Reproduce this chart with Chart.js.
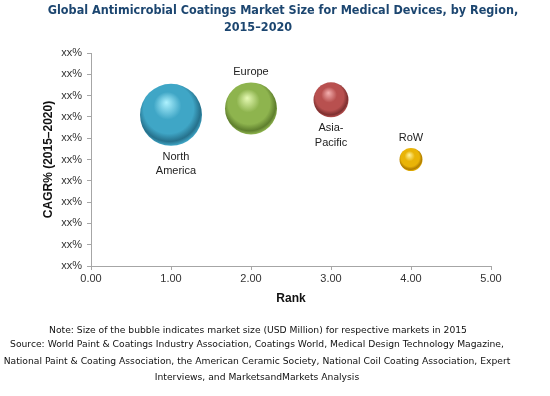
<!DOCTYPE html>
<html>
<head>
<meta charset="utf-8">
<script src="https://cdn.jsdelivr.net/npm/chart.js@4/dist/chart.umd.min.js"></script>
<style>
  html, body { margin: 0; padding: 0; background: #fff; }
  #wrap { position: relative; width: 550px; height: 396px; }
</style>
</head>
<body>
<div id="wrap"><canvas id="bubbleChart" width="550" height="396"></canvas></div>
<script>
// data
const regions = ['North America', 'Europe', 'Asia-Pacific', 'RoW'];
const rankValues = [1, 2, 3, 4];
const cagrValues = [7.1, 7.4, 7.8, 5.0];
const bubbleRadius = [31, 26, 17.5, 11.5];
const yTickLabels = ['xx%', 'xx%', 'xx%', 'xx%', 'xx%', 'xx%', 'xx%', 'xx%', 'xx%', 'xx%', 'xx%'];

const titleLines = [
  'Global Antimicrobial Coatings Market Size for Medical Devices, by Region,',
  '2015\u20132020'
];
const footerLines = [
  'Note: Size of the bubble indicates market size (USD Million) for respective markets in 2015',
  'Source: World Paint & Coatings Industry Association, Coatings World, Medical Design Technology Magazine,',
  'National Paint & Coating Association, the American Ceramic Society, National Coil Coating Association, Expert',
  'Interviews, and MarketsandMarkets Analysis'
];

// sphere shading: highlight, base, dark
const sphereColors = [
  ['#aef2ff', '#3fa6c6', '#26718c'],
  ['#e6fab4', '#8eb44e', '#5f7f2e'],
  ['#f4b0b0', '#b8504f', '#7e3030'],
  ['#fff4a0', '#e9b407', '#b07c00']
];
// label side for each bubble
const labelSide = ['below', 'above', 'below', 'above'];

function sphereFill(ctx) {
  const chart = ctx.chart;
  const raw = ctx.raw;
  const c = sphereColors[ctx.dataIndex] || sphereColors[0];
  if (!raw || !chart.scales.x) return c[1];
  const cx = chart.scales.x.getPixelForValue(raw.x);
  const cy = chart.scales.y.getPixelForValue(raw.y);
  if (!isFinite(cx) || !isFinite(cy)) return c[1];
  const r = raw.r;
  const g = chart.ctx.createRadialGradient(cx - r * 0.15, cy - r * 0.4, 0, cx - r * 0.05, cy - r * 0.12, r * 1.12);
  g.addColorStop(0, c[0]);
  g.addColorStop(0.4, c[1]);
  g.addColorStop(0.72, c[1]);
  g.addColorStop(0.9, c[2]);
  g.addColorStop(1, c[1]);
  return g;
}

const textPlugin = {
  id: 'textPlugin',
  afterDraw(chart) {
    const ctx = chart.ctx;
    ctx.save();
    ctx.textAlign = 'center';
    ctx.textBaseline = 'middle';

    // title
    ctx.fillStyle = '#1c4670';
    ctx.font = 'bold 12.5px "DejaVu Sans Condensed", "DejaVu Sans", sans-serif';
    ctx.fillText(titleLines[0], 283, 11);
    ctx.fillText(titleLines[1], 258, 28);

    // bubble labels
    ctx.fillStyle = '#222';
    ctx.font = '11px "Liberation Sans", Arial, sans-serif';
    const meta = chart.getDatasetMeta(0);
    meta.data.forEach((el, i) => {
      const r = bubbleRadius[i];
      const words = regions[i] === 'Asia-Pacific' ? ['Asia-', 'Pacific']
        : regions[i] === 'North America' ? ['North', 'America'] : [regions[i]];
      if (labelSide[i] === 'below') {
        words.forEach((w, k) => ctx.fillText(w, el.x + (i === 0 ? 5 : 0), el.y + r + 11 + k * 14.5));
      } else {
        ctx.fillText(words[0], el.x, el.y - r - 10);
      }
    });

    // footer notes
    ctx.fillStyle = '#111';
    ctx.font = '9.2px "DejaVu Sans", Verdana, sans-serif';
    ctx.fillText(footerLines[0], 258, 331);
    ctx.fillText(footerLines[1], 257, 345);
    ctx.fillText(footerLines[2], 257, 362);
    ctx.fillText(footerLines[3], 257, 378);
    ctx.restore();
  }
};

new Chart(document.getElementById('bubbleChart'), {
  type: 'bubble',
  plugins: [textPlugin],
  data: {
    datasets: [{
      label: 'CAGR',
      data: regions.map((name, i) => ({ x: rankValues[i], y: cagrValues[i], r: bubbleRadius[i] })),
      backgroundColor: sphereFill,
      borderWidth: 0
    }]
  },
  options: {
    responsive: false,
    animation: false,
    events: [],
    layout: { padding: { left: 38, right: 59, top: 53, bottom: 90 } },
    plugins: {
      legend: { display: false },
      tooltip: { enabled: false }
    },
    scales: {
      x: {
        type: 'linear',
        min: 0,
        max: 5,
        afterFit: s => { s.height = 40; },
        ticks: {
          stepSize: 1,
          color: '#333',
          font: { family: 'Liberation Sans', size: 11 },
          padding: 2,
          callback: v => v.toFixed(2)
        },
        grid: { drawOnChartArea: false, drawTicks: true, tickLength: 4, color: '#a6a6a6' },
        border: { color: '#a6a6a6' },
        title: {
          display: true,
          text: 'Rank',
          color: '#111',
          font: { family: 'Liberation Sans', size: 12, weight: 'bold' },
          padding: { top: 2, bottom: 0 }
        }
      },
      y: {
        type: 'linear',
        min: 0,
        max: 10,
        afterFit: s => { s.width = 53; },
        ticks: {
          stepSize: 1,
          color: '#333',
          font: { family: 'Liberation Sans', size: 11 },
          padding: 5,
          callback: (v, i) => yTickLabels[i]
        },
        grid: { drawOnChartArea: false, drawTicks: true, tickLength: 4, color: '#a6a6a6' },
        border: { color: '#a6a6a6' },
        title: {
          display: true,
          text: 'CAGR% (2015\u20132020)',
          color: '#111',
          font: { family: 'Liberation Sans', size: 12, weight: 'bold' },
          padding: { top: 3, bottom: 0 }
        }
      }
    }
  }
});
</script>
</body>
</html>
